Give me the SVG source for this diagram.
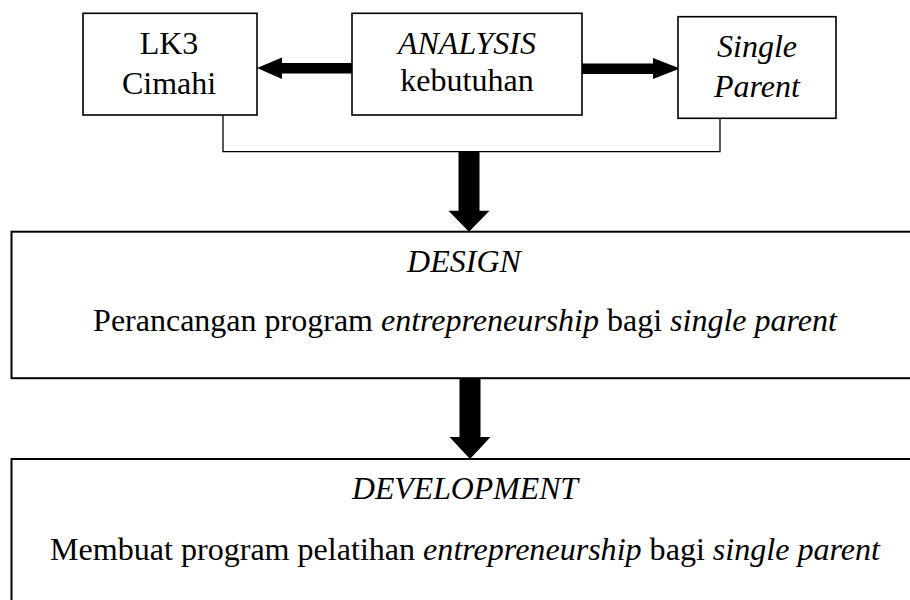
<svg xmlns="http://www.w3.org/2000/svg" width="910" height="600" viewBox="0 0 910 600" font-family="'Liberation Serif', 'Times New Roman', Tinos, 'DejaVu Serif', serif">
<style>
.box{fill:#fff;stroke:#000;stroke-width:1.6}
.big{fill:#fff;stroke:#000;stroke-width:2}
.t{font-family:'Liberation Serif','Times New Roman',Tinos,'DejaVu Serif',serif;font-size:32px;fill:#000;text-anchor:middle}
.i{font-style:italic}
.line{fill:none;stroke:#000;stroke-width:1.3}
.arr{fill:#000;stroke:none}
</style>
<rect width="910" height="600" fill="#fff"/>
<g id="connectors">
<polyline class="line" points="223,115 223,151.7 720,151.7 720,118"/>
<polygon class="arr" points="352,63 282,63 282,57.5 257,68 282,79 282,73.5 352,73.5"/>
<polygon class="arr" points="582,63.5 653,63.5 653,58 680,68.5 653,79 653,74 582,74"/>
<polygon class="arr" points="458.5,151.7 479.5,151.7 479.5,210.7 489.5,210.7 469,231.7 448.5,210.7 458.5,210.7"/>
<polygon class="arr" points="459.5,378 480.5,378 480.5,437 490.5,437 470,459 449.5,437 459.5,437"/>
</g>
<g id="node-lk3">
<rect class="box" x="83" y="13.3" width="174" height="101.7"/>
<text class="t" x="169" y="54">LK3</text>
<text class="t" x="169" y="94">Cimahi</text>
</g>
<g id="node-analysis">
<rect class="box" x="352" y="13.3" width="230" height="101.7"/>
<text class="t i" x="467" y="54">ANALYSIS</text>
<text class="t" x="467" y="91">kebutuhan</text>
</g>
<g id="node-single-parent">
<rect class="box" x="678" y="16.7" width="158" height="101.6"/>
<text class="t i" x="757" y="57">Single</text>
<text class="t i" x="757" y="96.5">Parent</text>
</g>
<g id="node-design">
<rect class="big" x="11.5" y="231.7" width="920" height="146.5"/>
<text class="t i" x="464" y="272" font-size="31">DESIGN</text>
<text class="t" x="465" y="331">Perancangan program <tspan class="i">entrepreneurship</tspan> bagi <tspan class="i">single parent</tspan></text>
</g>
<g id="node-development">
<rect class="big" x="11.5" y="459" width="920" height="160"/>
<text class="t i" x="465" y="499" font-size="34" textLength="226" lengthAdjust="spacingAndGlyphs">DEVELOPMENT</text>
<text class="t" x="465" y="560" font-size="34" textLength="830" lengthAdjust="spacingAndGlyphs">Membuat program pelatihan <tspan class="i">entrepreneurship</tspan> bagi <tspan class="i">single parent</tspan></text>
</g>
</svg>
